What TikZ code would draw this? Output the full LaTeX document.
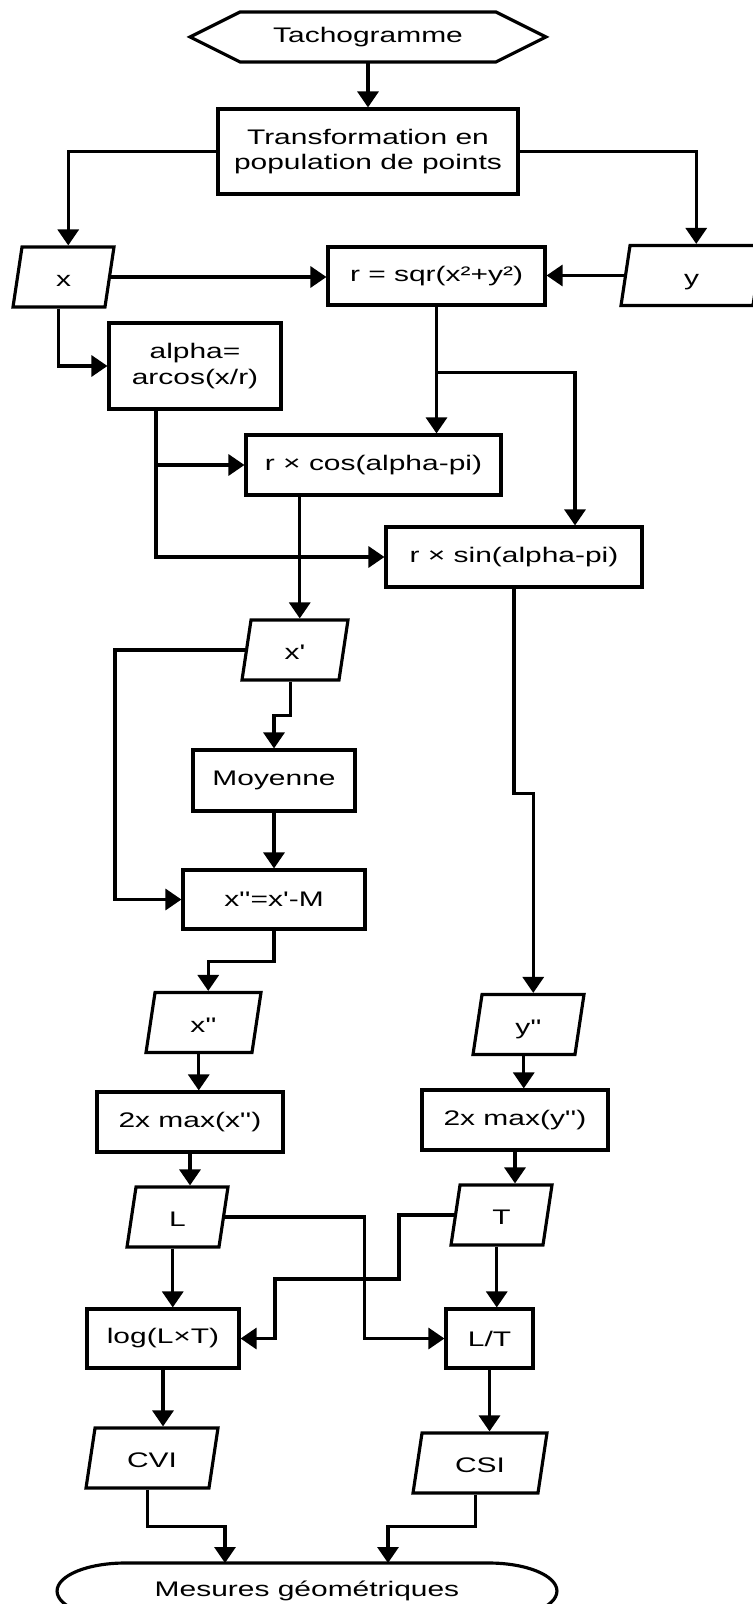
\documentclass[tikz,border=0pt]{standalone}
\usepackage{fontspec}
\setmainfont{Liberation Sans}[FakeStretch=1.42, Ligatures=TeXOff]
\usetikzlibrary{arrows.meta, shapes.geometric, calc}

\begin{document}
\begin{tikzpicture} [x=0.02cm, y=-0.02cm,
            line width=1.8pt,
            font=\fontsize{12}{14.7}\selectfont,
            box/.style={draw, rectangle, inner sep=0pt, align=center},
            io/.style={draw, trapezium, trapezium left angle=65,
                trapezium right angle=115, trapezium stretches body,
                inner sep=0pt, minimum height=1.2cm,
                text height=11pt, text depth=0pt},
            term/.style={inner sep=0pt, outer sep=0pt},
            arr/.style={-{Triangle[width=0.42cm, length=0.32cm]}}]

        \useasboundingbox (0,0) rectangle (752,1604);

        % Start
        \node (tacho) [term, minimum width=7.12cm,
            minimum height=1cm] at (368,37) {Tachogramme};
        \draw (tacho.west) -- ($(tacho.north west)+(50,0)$)
            -- ($(tacho.north east)+(-50,0)$) -- (tacho.east)
            -- ($(tacho.south east)+(-50,0)$)
            -- ($(tacho.south west)+(50,0)$) -- cycle;

        % Box trans
        \node (trans) [box, minimum width=6cm,
            minimum height=1.7cm] at (368,151.5)
            {Transformation en\\population de points};

        % Inputs x and y
        \node (xin) [io, minimum width=2.02cm] at (63.5,277) {x};
        \node (yin) [io, minimum width=2.82cm] at (691.5,275.5) {y};

        % Box r
        \node (rbox) [box, minimum width=4.34cm,
            minimum height=1.16cm] at (436.5,276) {r = sqr(x²+y²)};

        % Box alpha
        \node (alpha) [box, minimum width=3.44cm,
            minimum height=1.72cm] at (195,366) {alpha=\\arcos(x/r)};

        % Boxes cos and sin
        \node (cosb) [box, minimum width=5.1cm,
            minimum height=1.2cm] at (373.5,465) {r × cos(alpha-pi)};
        \node (sinb) [box, minimum width=5.12cm,
            minimum height=1.2cm] at (514,557) {r × sin(alpha-pi)};

        % x' and mean
        \node (xp) [io, minimum width=2.12cm] at (295,650) {x'};
        \node (moy) [box, minimum width=3.24cm,
            minimum height=1.22cm] at (274,780.5) {Moyenne};
        \node (xdiff) [box, minimum width=3.64cm,
            minimum height=1.18cm] at (274,899.5) {x''=x'-M};

        % x'' and y''
        \node (xs) [io, minimum width=2.3cm] at (203.5,1022.5) {x''};
        \node (ys) [io, minimum width=2.22cm] at (528.5,1024.5) {y''};

        % Max boxes
        \node (maxx) [box, minimum width=3.72cm,
            minimum height=1.2cm] at (190,1122) {2x max(x'')};
        \node (maxy) [box, minimum width=3.72cm,
            minimum height=1.2cm] at (515,1120) {2x max(y'')};

        % L and T
        \node (lpar) [io, minimum width=2.02cm] at (177.5,1217) {L};
        \node (tpar) [io, minimum width=2.02cm] at (501.5,1215) {T};

        % log and ratio
        \node (logb) [box, minimum width=3.04cm,
            minimum height=1.18cm] at (163,1338.5) {log(L×T)};
        \node (ratio) [box, minimum width=1.74cm,
            minimum height=1.18cm] at (489.5,1338.5) {L/T};

        % CVI and CSI
        \node (cvi) [io, minimum width=2.64cm] at (152,1458) {CVI};
        \node (csi) [io, minimum width=2.68cm] at (480,1463) {CSI};

        % End
        \node (mes) [term, minimum width=10cm,
            minimum height=1.12cm] at (307,1591) {Mesures géométriques};
        \draw ($(mes.north west)+(68,0)$) -- ($(mes.north east)+(-68,0)$)
            arc [start angle=90, end angle=-90, x radius=1.36cm, y radius=0.56cm]
            -- ($(mes.south west)+(68,0)$)
            arc [start angle=270, end angle=90, x radius=1.36cm, y radius=0.56cm]
            -- cycle;

        % Arrows
        \draw [arr] (tacho) -- (trans);
        \draw [arr] (trans.west) -| (xin.top side);
        \draw [arr] (trans.east) -| (yin.top side);
        \draw [arr] (xin.east) -- (xin.east -| rbox.west);
        \draw [arr] (yin.west) -- (yin.west -| rbox.east);
        \draw [arr] (xin.bottom side) |- (alpha.west);
        \draw [arr] (rbox.south) -- (rbox.south |- cosb.north);
        \draw [arr] (rbox.south) ++(0,66) -| ($(sinb.north)+(61,0)$);
        \draw [arr] ($(alpha.south)+(-39,0)$) |- (cosb.west);
        \draw [arr] ($(alpha.south)+(-39,0)$) |- (sinb.west);
        \draw [arr] (cosb.south -| xp.top side) -- (xp.top side);
        \draw [arr] (xp.west) -- ++(-130,0) |- (xdiff.west);
        \draw [arr] (xp.bottom side) -- ++(0,34) -| (moy.north);
        \draw [arr] (moy) -- (xdiff);
        \draw [arr] (sinb.south) -- ++(0,205) -| (ys.top side);
        \draw [arr] (xdiff.south) -- ++(0,31) -| (xs.top side);
        \draw [arr] (xs.bottom side) -- (xs.bottom side |- maxx.north);
        \draw [arr] (ys.bottom side) -- (ys.bottom side |- maxy.north);
        \draw [arr] (maxx.south) -- (maxx.south |- lpar.north);
        \draw [arr] (maxy.south) -- (maxy.south |- tpar.north);
        \draw [arr] (lpar.east) -- ++(139,0) |- (ratio.west);
        \draw [arr] (tpar.west) -- ++(-55,0) -- ++(0,64) -- ++(-124,0)
            |- (logb.east);
        \draw [arr] (lpar.bottom side) -- (lpar.bottom side |- logb.north);
        \draw [arr] (tpar.bottom side) -- (tpar.bottom side |- ratio.north);
        \draw [arr] (logb.south) -- (logb.south |- cvi.north);
        \draw [arr] (ratio.south) -- (ratio.south |- csi.north);
        \draw [arr] (cvi.bottom side) -- ++(0,37) -| ($(mes.north)+(-82,0)$);
        \draw [arr] (csi.bottom side) -- ++(0,32) -| ($(mes.north)+(81,0)$);
\end{tikzpicture}
\end{document}
